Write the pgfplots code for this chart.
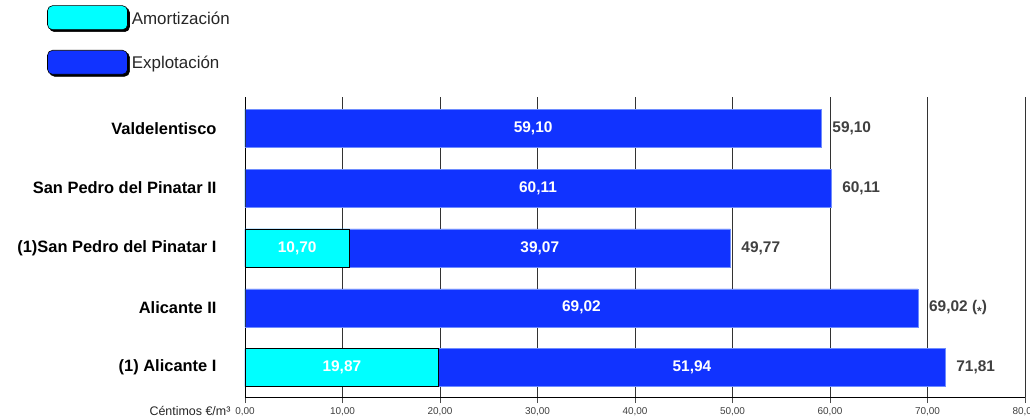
\documentclass[border=0pt]{standalone}
\usepackage{pgfplots}
\pgfplotsset{compat=1.18}
\usepackage{pgfplotstable}
\usepackage{fontspec}
\setmainfont{Liberation Sans}
\definecolor{amort}{RGB}{0,255,255}
\definecolor{expl}{RGB}{17,51,255}
\definecolor{expledge}{RGB}{110,140,255}
\pgfplotstableread{
pos amort expl total
4 0 59.10 59.10
3 0 60.11 60.11
2 10.70 39.07 49.77
1 0 69.02 69.02
0 19.87 51.94 71.81
}\data
\pgfplotstablecreatecol[expr={\thisrow{amort}/2}]{amid}\data
\pgfplotstablecreatecol[expr={\thisrow{amort}+\thisrow{expl}/2}]{emid}\data
\pgfplotsset{
  lbl/.style={sharp plot, draw=none, mark=none, forget plot,
    point meta=explicit symbolic},
  inlbl/.style={every node near coord/.style={anchor=center, inner sep=0pt,
      text=white, font=\fontsize{15.5}{17}\selectfont\bfseries}},
  bars/.style={xbar, bar width=38bp, bar shift=0pt},
}
\begin{document}
\begin{tikzpicture}
\begin{axis}[
  at={(0,0)}, anchor=south west,
  scale only axis, width=780bp, height=300bp,
  xmin=0, xmax=80, ymin=-0.49, ymax=4.52,
  axis x line*=bottom, axis y line*=left,
  axis line style={black, line width=0.8bp},
  xtick={0,10,...,80},
  xmajorgrids, major x grid style={black!80, line width=0.8bp},
  tick align=outside, major tick length=6bp,
  x tick style={black!70, line width=0.8bp},
  ytick={0,1,2,3,4},
  y tick style={draw=none},
  yticklabels={(1) Alicante I, Alicante II, (1)San Pedro del Pinatar I, San Pedro del Pinatar II, Valdelentisco},
  yticklabel style={font=\fontsize{16.5}{18}\selectfont\bfseries, text=black, xshift=-19bp},
  xticklabel style={font=\fontsize{10}{11}\selectfont, text=black!75, yshift=-1bp},
  x tick label style={/pgf/number format/.cd, fixed, fixed zerofill, precision=2, use comma},
  /pgf/number format/assume math mode=true,
  clip=false,
  reverse legend,
  legend style={draw=none, fill=none, at={(rel axis cs:-0.2538,1.306)}, anchor=north west,
    inner sep=0pt, row sep=18bp, font=\fontsize{17}{19}\selectfont, text=black!85,
    cells={anchor=west}},
]
% Explotacion bar spans from 0 to the total; the amortizacion part is drawn over its start
\addplot[bars, fill=expl, draw=expledge, line width=0.5bp,
  legend image code/.code={\fill[black,rounded corners=5bp] (2bp,-13bp) rectangle (82bp,11bp);
    \draw[fill=expl,draw=black,line width=0.6bp,rounded corners=5bp] (0bp,-11bp) rectangle (80bp,13bp);},
] table[x=total,y=pos]{\data};
\addlegendentry{Explotación}
\addplot[bars, fill=amort, draw=black, line width=0.6bp,
  legend image code/.code={\fill[black,rounded corners=5bp] (2bp,-13bp) rectangle (82bp,11bp);
    \draw[fill=amort,draw=black,line width=0.6bp,rounded corners=5bp] (0bp,-11bp) rectangle (80bp,13bp);},
] table[x=amort,y=pos]{\data};
\addlegendentry{Amortización}
\addplot[lbl, inlbl,
  nodes near coords={\ifdim\pgfplotspointmeta pt>0pt \pgfmathprintnumber[fixed,fixed zerofill,precision=2,use comma]{\pgfplotspointmeta}\fi},
] table[x=amid,y=pos,meta=amort]{\data};
\addplot[lbl, inlbl,
  nodes near coords={\pgfmathprintnumber[fixed,fixed zerofill,precision=2,use comma]{\pgfplotspointmeta}},
] table[x=emid,y=pos,meta=expl]{\data};
\addplot[lbl,
  nodes near coords={\pgfmathprintnumber[fixed,fixed zerofill,precision=2,use comma]{\pgfplotspointmeta}\ifdim\pgfplotspointmeta pt=69.02pt\ (\raisebox{-0.25em}{\fontsize{12}{12}\selectfont *})\fi},
  every node near coord/.style={anchor=west, xshift=8bp, inner sep=3bp,
    text=black!75, font=\fontsize{15.5}{17}\selectfont\bfseries}
] table[x=total,y=pos,meta=total]{\data};
\node[anchor=east, font=\fontsize{12.5}{13}\selectfont, text=black!85] at ([xshift=-11bp,yshift=-14bp]rel axis cs:0,0) {Céntimos €/m³};
\end{axis}
\pgfresetboundingbox
\path[use as bounding box] (-245bp,-20bp) rectangle (785bp,397bp);
\end{tikzpicture}
\end{document}
